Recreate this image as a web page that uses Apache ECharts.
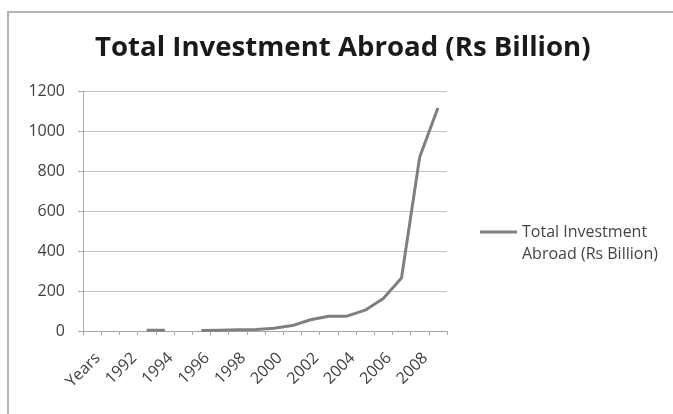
<!DOCTYPE html>
<html>
<head>
<meta charset="utf-8">
<title>Total Investment Abroad (Rs Billion)</title>
<script src="https://cdn.jsdelivr.net/npm/echarts@6/dist/echarts.min.js"></script>
<style>
  html, body { margin: 0; padding: 0; background: #fff; }
  #wrap { position: relative; width: 673px; height: 414px; overflow: hidden; }
  #frame { position: absolute; left: 7px; top: 11px; width: 700px; height: 440px;
           border-top: 2px solid #b4b4b4; border-left: 2px solid #b4b4b4; box-sizing: border-box; }
  #chart { position: absolute; left: 0; top: 0; width: 673px; height: 414px; }
</style>
</head>
<body>
<div id="wrap">
  <div id="frame"></div>
  <div id="chart"></div>
</div>
<script>
// categories along the x axis
const years = ['Years', '1991', '1992', '1993', '1994', '1995', '1996', '1997', '1998', '1999',
  '2000', '2001', '2002', '2003', '2004', '2005', '2006', '2007', '2008', '2009']

// Rs Billion, null where there is no value
const investment = [null, null, null, 4, 4, null, 2, 4, 6, 8,
  14, 27, 56, 74, 74, 104, 162, 265, 870, 1115]

const seriesName = 'Total Investment Abroad (Rs Billion)'
const yTicks = [0, 200, 400, 600, 800, 1000, 1200]

const font = 'Open Sans'
const chart = echarts.init(document.getElementById('chart'), null, { renderer: 'canvas' })

chart.setOption({
  backgroundColor: 'transparent',
  animation: false,
  textStyle: { fontFamily: font },
  title: {
    text: 'Total Investment Abroad (Rs Billion)',
    left: 90,
    top: 29,
    textStyle: { fontFamily: font, fontWeight: 'bold', fontSize: 27.6, color: '#1a1a1a' }
  },
  legend: {
    data: [seriesName],
    left: 480,
    top: 199,
    padding: 0,
    itemWidth: 37,
    itemHeight: 10,
    icon: 'path://M0,4L37,4L37,7L0,7Z',
    // blank first line keeps the icon level with the first text line
    formatter: () => '\nTotal Investment\nAbroad (Rs Billion)',
    textStyle: { fontFamily: font, fontSize: 16, color: '#444', lineHeight: 22 }
  },
  grid: { left: 83, right: 226, top: 91, bottom: 83, containLabel: false },
  xAxis: {
    type: 'category',
    data: years,
    boundaryGap: true,
    axisLine: { lineStyle: { color: '#a8a8a8', width: 1 } },
    axisTick: { show: true, interval: 0, length: 4, lineStyle: { color: '#a8a8a8' } },
    axisLabel: {
      interval: 1,
      rotate: 45,
      align: 'right',
      verticalAlign: 'top',
      margin: 19,
      fontSize: 16,
      color: '#404040'
    },
    splitLine: { show: false }
  },
  yAxis: {
    type: 'value',
    min: yTicks[0],
    max: yTicks[yTicks.length - 1],
    interval: yTicks[1] - yTicks[0],
    axisLine: { show: true, lineStyle: { color: '#a8a8a8', width: 1 } },
    axisTick: { show: true, length: 5, lineStyle: { color: '#a8a8a8' } },
    axisLabel: { margin: 18, fontSize: 16, color: '#404040', formatter: v => String(v) },
    splitLine: { lineStyle: { color: '#c4c4c4', width: 1 } }
  },
  series: [
    {
      name: seriesName,
      type: 'line',
      data: investment,
      connectNulls: false,
      showSymbol: false,
      symbol: 'none',
      lineStyle: { color: '#7f7f7f', width: 3 },
      itemStyle: { color: '#7f7f7f' }
    }
  ]
})
</script>
</body>
</html>
